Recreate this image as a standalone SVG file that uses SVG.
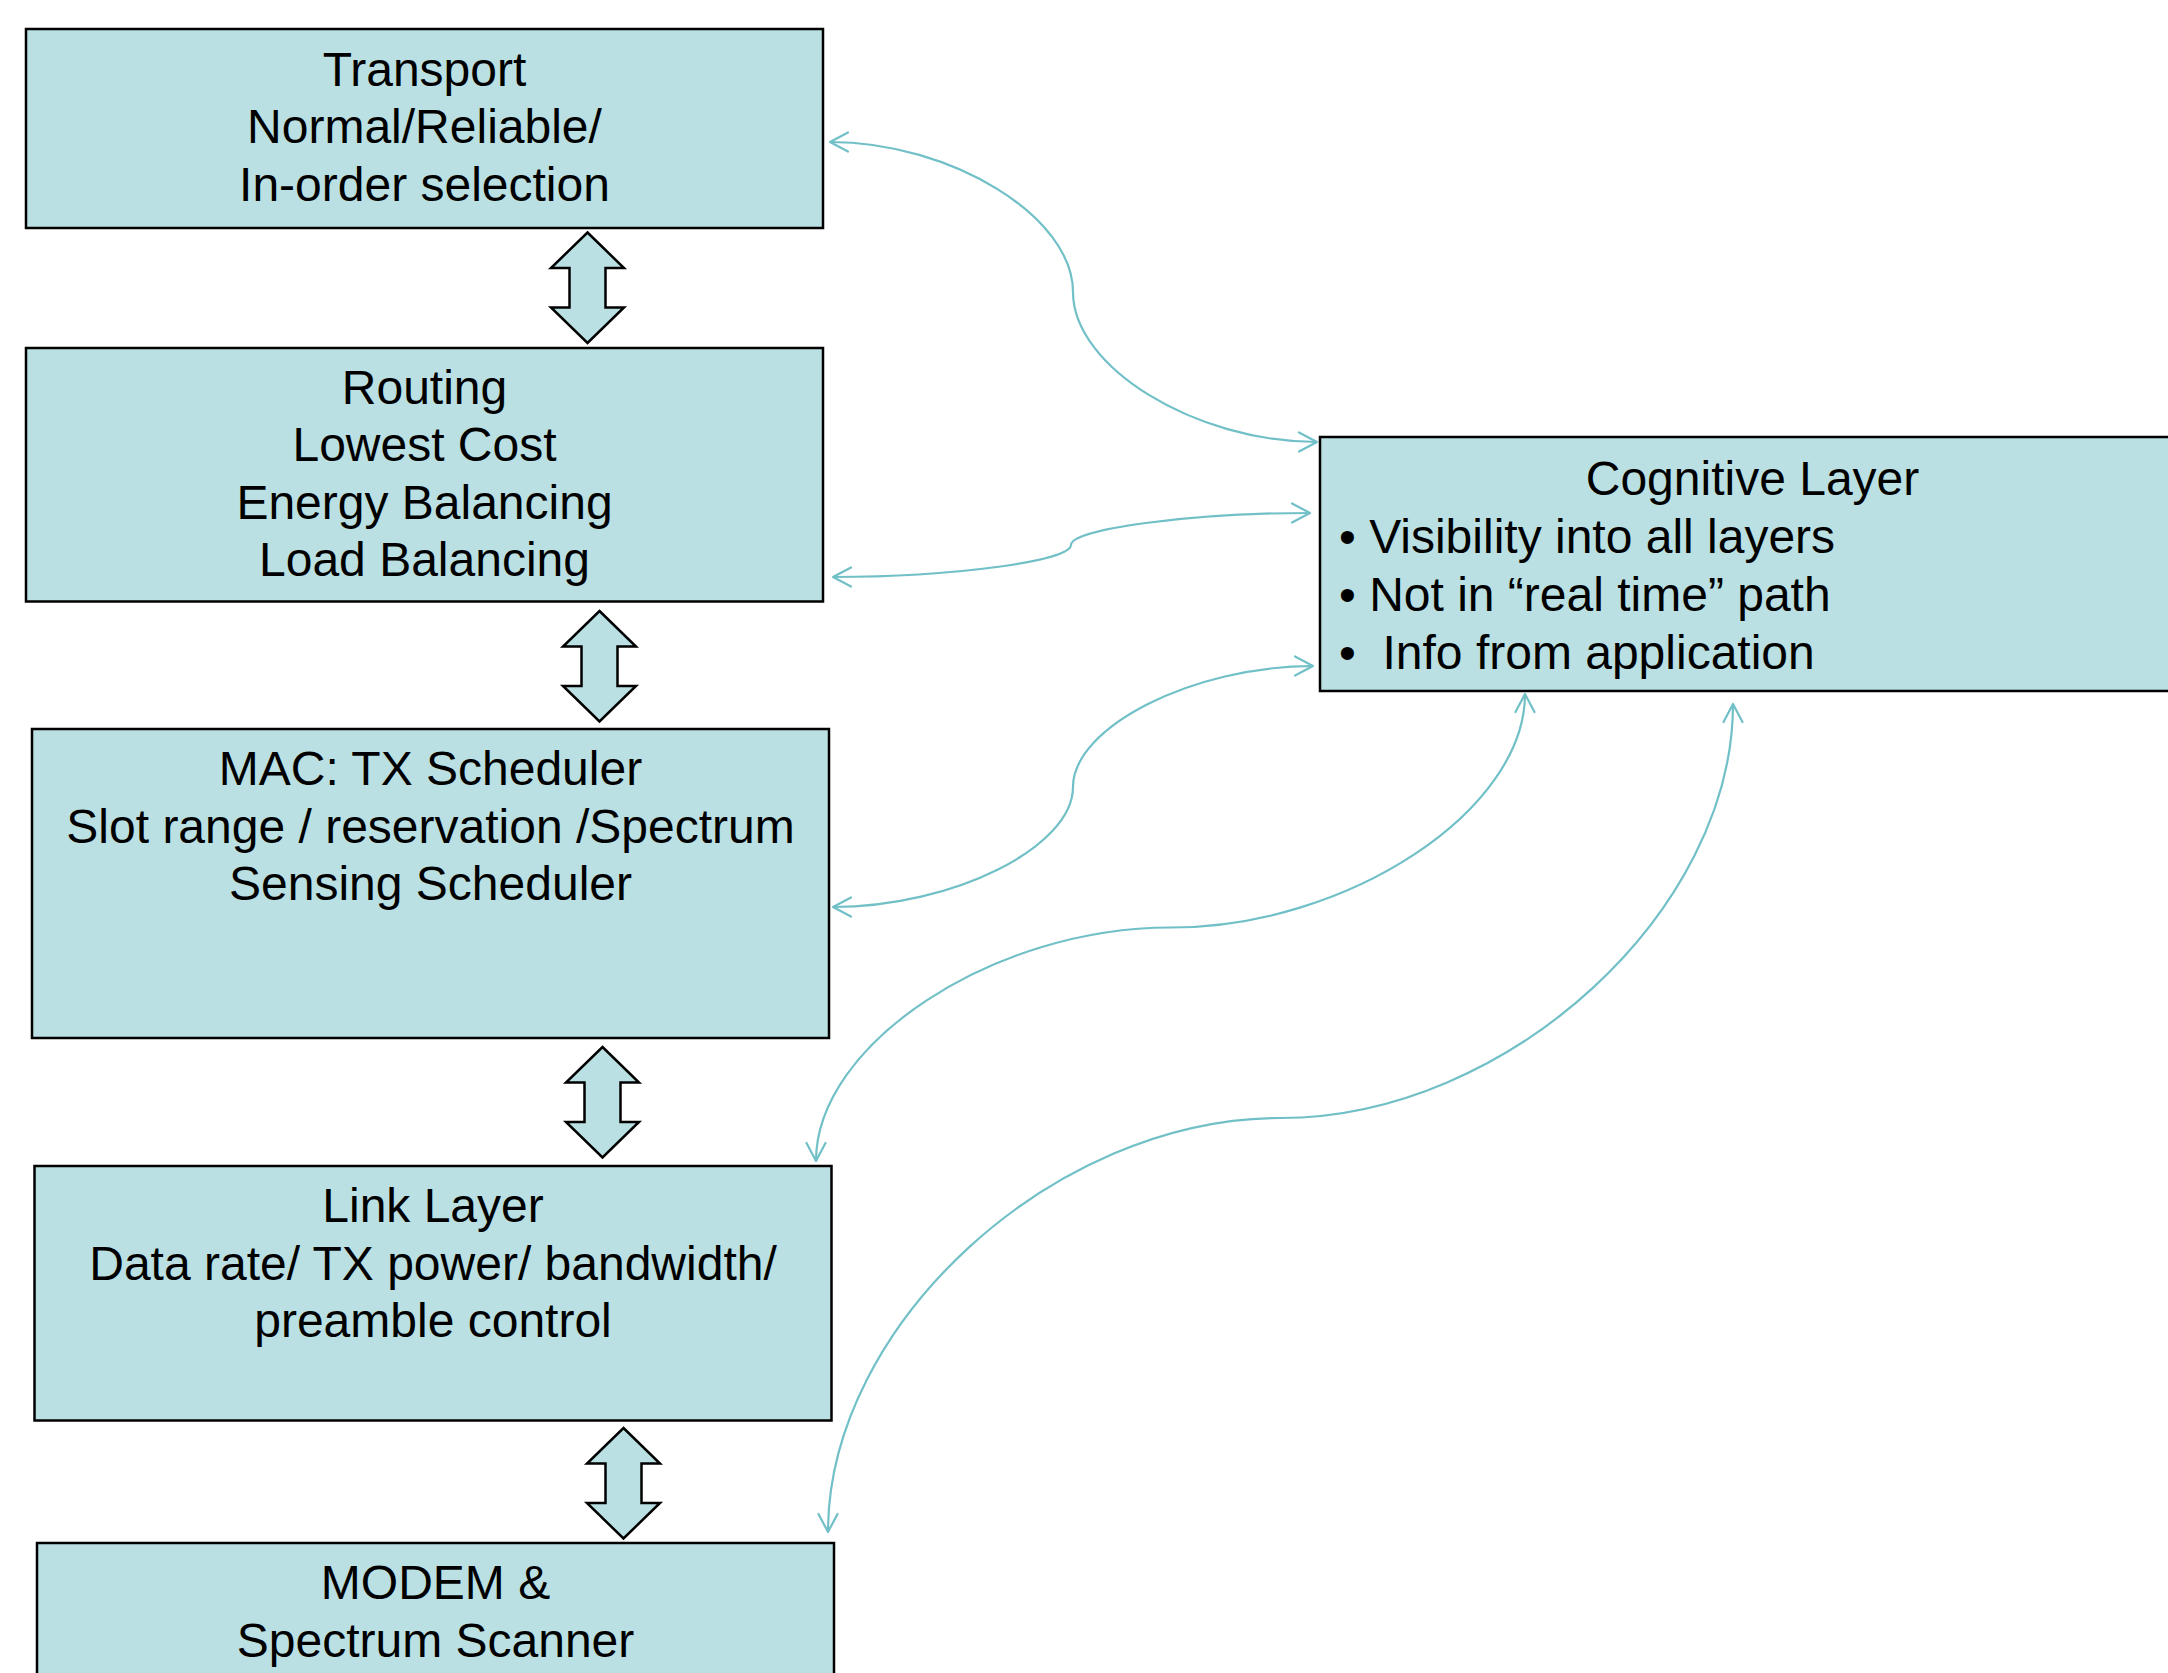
<svg xmlns="http://www.w3.org/2000/svg" width="2168" height="1673" viewBox="0 0 2168 1673">
<style>
.box{fill:#BAE0E3;stroke:#000;stroke-width:2.5}
.blk{fill:#BAE0E3;stroke:#000;stroke-width:2.5;stroke-linejoin:miter}
.t{font-family:"Liberation Sans",Arial,sans-serif;font-size:48px;fill:#000}
.c{text-anchor:middle}
.con{fill:none;stroke:#72C0C7;stroke-width:2.2;marker-start:url(#ah);marker-end:url(#ah)}
</style>
<defs>
<marker id="ah" markerUnits="userSpaceOnUse" orient="auto-start-reverse" refX="0" refY="0" markerWidth="30" markerHeight="30" viewBox="-20 -15 30 30" overflow="visible">
<path d="M-18,-9.5 L0,0 L-18,9.5" fill="none" stroke="#72C0C7" stroke-width="2.2" stroke-linecap="round" stroke-linejoin="round"/>
</marker>
</defs>
<rect width="2168" height="1673" fill="#fff"/>

<g id="transport">
<rect class="box" x="26" y="29" width="797" height="199"/>
<text class="t c" x="424.5" y="86">Transport</text>
<text class="t c" x="424.5" y="143">Normal/Reliable/</text>
<text class="t c" x="424.5" y="200.5">In-order selection</text>
</g>

<g id="routing">
<rect class="box" x="26" y="348" width="797" height="253.5"/>
<text class="t c" x="424.5" y="403.5">Routing</text>
<text class="t c" x="424.5" y="461">Lowest Cost</text>
<text class="t c" x="424.5" y="518.5">Energy Balancing</text>
<text class="t c" x="424.5" y="576">Load Balancing</text>
</g>

<g id="mac">
<rect class="box" x="32" y="729" width="797" height="309"/>
<text class="t c" x="430.5" y="785">MAC: TX Scheduler</text>
<text class="t c" x="430.5" y="843">Slot range / reservation /Spectrum</text>
<text class="t c" x="430.5" y="900">Sensing Scheduler</text>
</g>

<g id="link">
<rect class="box" x="34.5" y="1166" width="797" height="254.5"/>
<text class="t c" x="433" y="1222">Link Layer</text>
<text class="t c" x="433" y="1280">Data rate/ TX power/ bandwidth/</text>
<text class="t c" x="433" y="1337">preamble control</text>
</g>

<g id="modem">
<rect class="box" x="37" y="1543" width="797" height="160"/>
<text class="t c" x="435.5" y="1599">MODEM &amp;</text>
<text class="t c" x="435.5" y="1656.5">Spectrum Scanner</text>
</g>

<g id="cognitive">
<rect class="box" x="1320" y="437" width="870" height="254"/>
<text class="t c" x="1752.5" y="494.5">Cognitive Layer</text>
<text class="t" x="1339" y="552.5">• Visibility into all layers</text>
<text class="t" x="1339" y="610.5">• Not in “real time” path</text>
<text class="t" x="1339" y="668.5" xml:space="preserve">•  Info from application</text>
</g>

<g id="connectors">
<polygon class="blk" points="587.5,232.5 624,268 605.5,268 605.5,307.5 624,307.5 587.5,343 551,307.5 569.5,307.5 569.5,268 551,268"/>
<polygon class="blk" points="599.5,611 636,646.5 617.5,646.5 617.5,686 636,686 599.5,721.5 563,686 581.5,686 581.5,646.5 563,646.5"/>
<polygon class="blk" points="602.5,1047 639,1082.5 620.5,1082.5 620.5,1122 639,1122 602.5,1157.5 566,1122 584.5,1122 584.5,1082.5 566,1082.5"/>
<polygon class="blk" points="623.5,1428 660,1463.5 641.5,1463.5 641.5,1503 660,1503 623.5,1538.5 587,1503 605.5,1503 605.5,1463.5 587,1463.5"/>

<path class="con" d="M830,142 C951.5,142 1073,217 1073,292 C1073,367 1195,442 1317,442"/>
<path class="con" d="M833,577 C952,577 1071,561 1071,545 C1071,529 1190.5,513 1310,513"/>
<path class="con" d="M833,907 C953,907 1073,847 1073,787 C1073,727 1193,666 1313,666"/>
<path class="con" d="M1525,694 C1525,810.5 1348,927.5 1170.5,927.5 C993,927.5 816,1044 816,1161"/>
<path class="con" d="M1733,704 C1733,911 1508,1118 1280.5,1118 C1053,1118 828,1325 828,1532"/>
</g>
</svg>
